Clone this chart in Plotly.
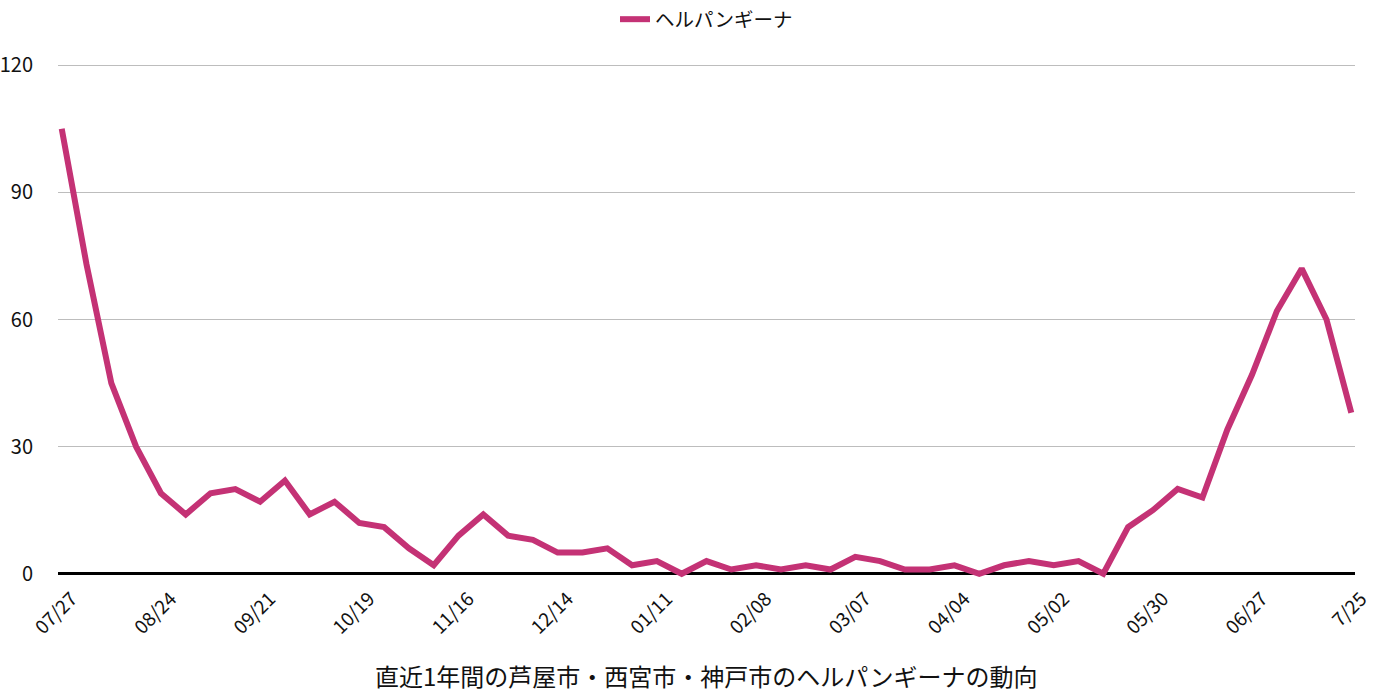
import plotly.graph_objects as go

dates = ["07/27","08/03","08/10","08/17","08/24","08/31","09/07","09/14","09/21","09/28",
         "10/05","10/12","10/19","10/26","11/02","11/09","11/16","11/23","11/30","12/07",
         "12/14","12/21","12/28","01/04","01/11","01/18","01/25","02/01","02/08","02/15",
         "02/22","03/01","03/07","03/14","03/21","03/28","04/04","04/11","04/18","04/25",
         "05/02","05/09","05/16","05/23","05/30","06/06","06/13","06/20","06/27","07/04",
         "07/11","07/18","7/25"]
values = [105, 73, 45, 30, 19, 14, 19, 20, 17, 22,
          14, 17, 12, 11, 6, 2, 9, 14, 9, 8,
          5, 5, 6, 2, 3, 0, 3, 1, 2, 1,
          2, 1, 4, 3, 1, 1, 2, 0, 2, 3,
          2, 3, 0, 11, 15, 20, 18, 34, 47, 62,
          72, 60, 38]
tick_labels = ["07/27","08/24","09/21","10/19","11/16","12/14","01/11","02/08",
               "03/07","04/04","05/02","05/30","06/27","7/25"]
y_ticks = [0, 30, 60, 90, 120]
series_name = "ヘルパンギーナ"
title_text = "直近1年間の芦屋市・西宮市・神戸市のヘルパンギーナの動向"

idx = list(range(len(values)))
tick_pos = [i for i, d in enumerate(dates) if d in tick_labels]

FONT = "Noto Sans CJK JP"
PLOT_TOP, PLOT_H = 60.8, 517.4
X_PAD = 0.15
STEP = (1351 - 62) / (len(values) - 1)

fig = go.Figure()
fig.add_trace(go.Scatter(
    x=idx, y=values, mode="lines", name=series_name,
    line=dict(color="#C43275", width=6),
))

fig.update_layout(
    width=1376, height=698,
    margin=dict(l=62 - X_PAD * STEP, r=25 - X_PAD * STEP, t=PLOT_TOP,
                b=698 - PLOT_TOP - PLOT_H, autoexpand=False),
    paper_bgcolor="white", plot_bgcolor="white",
    font=dict(family=FONT, color="#111", size=19),
    showlegend=True,
    legend=dict(orientation="h", x=0.5, xanchor="center", y=1.0,
                yanchor="top", yref="container", itemwidth=30,
                font=dict(size=19.5, family=FONT, color="#111")),
    xaxis=dict(range=[-X_PAD, len(values) - 1 + X_PAD], tickmode="array", tickvals=tick_pos,
               ticktext=tick_labels, tickangle=-45, showgrid=False, zeroline=False,
               showline=False, ticks="", ticklabelshift=10, ticklabelstandoff=5,
               ticklabeloverflow="allow", automargin=False,
               tickfont=dict(size=19, family=FONT, color="#111")),
    yaxis=dict(range=[-1, 121], tickmode="array", tickvals=y_ticks,
               showgrid=True, gridcolor="#bdbdbd", gridwidth=1,
               zeroline=True, zerolinecolor="#000", zerolinewidth=2.5,
               showline=False, ticks="", ticklabelstandoff=24, automargin=False,
               tickfont=dict(size=20, family=FONT, color="#111")),
    annotations=[dict(text=title_text, x=0.5, xref="paper",
                      y=-(676 - (PLOT_TOP + PLOT_H)) / PLOT_H, yref="paper",
                      yanchor="middle", showarrow=False,
                      font=dict(size=24, family=FONT, color="#111"))],
)

fig.write_html("out.html", config={"displayModeBar": False},
               post_script="document.body.style.margin='0';")
